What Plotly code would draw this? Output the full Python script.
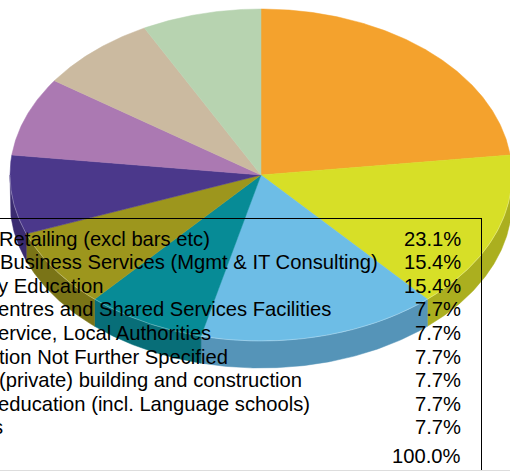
import numpy as np
import plotly.graph_objects as go

# ---- data ----
labels = [
    "Retailing (excl bars etc)",
    "Business Services (Mgmt & IT Consulting)",
    "y Education",
    "entres and Shared Services Facilities",
    "ervice, Local Authorities",
    "tion Not Further Specified",
    "(private) building and construction",
    "education (incl. Language schools)",
    "s",
]
values = [23.1, 15.4, 15.4, 7.7, 7.7, 7.7, 7.7, 7.7, 7.7]
total_label = "100.0%"

top_colors = ["#F4A22D", "#D7DF27", "#6DBDE6", "#078B96", "#9D961D",
              "#4B388B", "#AB79B2", "#CBBAA0", "#B7D3B0"]
side_colors = ["#B8791F", "#ABAF1F", "#5594B8", "#086E78", "#7A7417",
               "#3A2B70", "#85598B", "#9E8F7B", "#8EA589"]

# ---- layout (pixel space) ----
W, H = 510, 471
cx, cy, rx, ry, depth = 261.0, 175.0, 251.0, 166.0, 27.0
label_x = [-3, -2, -4, -4, -4, -3, -3, -4, -9]
row_y0, row_dy = 238.5, 23.6
pct_right = 463
total_y = 456.0
frame_top, frame_right = 218.5, 481.5
font = dict(family="Liberation Sans, Arial, sans-serif", size=20.2, color="#000000")


def arc(a0, a1, dy=0.0):
    t = np.radians(np.linspace(a0, a1, max(2, int(abs(a1 - a0) * 2) + 2)))
    return cx + rx * np.sin(t), cy - ry * np.cos(t) + dy


fig = go.Figure()
frac = np.array(values) / np.sum(values)
edges = np.concatenate([[0], np.cumsum(frac) * 360])

# side walls (front half only)
for i in range(len(values)):
    s0, s1 = max(edges[i], 90), min(edges[i + 1], 270)
    if s0 < s1:
        xt, yt = arc(s0, s1)
        xb, yb = arc(s1, s0, depth)
        fig.add_trace(go.Scatter(
            x=np.concatenate([xt, xb, xt[:1]]), y=np.concatenate([yt, yb, yt[:1]]),
            mode="lines", fill="toself", fillcolor=side_colors[i],
            line=dict(width=0.5, color=side_colors[i]), hoverinfo="skip"))

# top surfaces
for i in range(len(values)):
    xa, ya = arc(edges[i], edges[i + 1])
    fig.add_trace(go.Scatter(
        x=np.concatenate([[cx], xa, [cx]]), y=np.concatenate([[cy], ya, [cy]]),
        mode="lines", fill="toself", fillcolor=top_colors[i],
        line=dict(width=0.5, color=top_colors[i]), hoverinfo="skip"))

# subtle light rim along the front edge
xr, yr = arc(90, 270)
fig.add_trace(go.Scatter(x=xr, y=yr, mode="lines", hoverinfo="skip",
                         line=dict(width=0.8, color="rgba(255,255,255,0.35)")))

# table text
ann = []
for i, (lab, v) in enumerate(zip(labels, values)):
    y = row_y0 + i * row_dy
    ann.append(dict(x=label_x[i] / W, y=1 - y / H, xref="paper", yref="paper",
                    text=lab, showarrow=False, xanchor="left", yanchor="middle", font=font))
    ann.append(dict(x=pct_right / W, y=1 - y / H, xref="paper", yref="paper",
                    text=f"{v:.1f}%", showarrow=False, xanchor="right", yanchor="middle", font=font))
ann.append(dict(x=pct_right / W, y=1 - total_y / H, xref="paper", yref="paper",
                text=total_label, showarrow=False, xanchor="right", yanchor="middle", font=font))

shapes = [
    dict(type="line", xref="paper", yref="paper", x0=0, x1=(frame_right + 0.5) / W,
         y0=1 - frame_top / H, y1=1 - frame_top / H, line=dict(color="#000000", width=1)),
    dict(type="line", xref="paper", yref="paper", x0=frame_right / W, x1=frame_right / W,
         y0=1 - frame_top / H, y1=0, line=dict(color="#000000", width=1)),
    dict(type="line", xref="paper", yref="paper", x0=0, x1=1,
         y0=1 - 470.5 / H, y1=1 - 470.5 / H, line=dict(color="#DDDDDD", width=1)),
]

fig.update_layout(
    width=W, height=H, margin=dict(l=0, r=0, t=0, b=0),
    paper_bgcolor="white", plot_bgcolor="white", showlegend=False,
    xaxis=dict(range=[0, W], visible=False, fixedrange=True),
    yaxis=dict(range=[H, 0], visible=False, fixedrange=True),
    annotations=ann, shapes=shapes, hovermode=False,
)
fig.write_html(
    "out.html",
    config={"displayModeBar": False},
    post_script="document.body.style.margin='0';document.body.style.overflow='hidden';",
)
